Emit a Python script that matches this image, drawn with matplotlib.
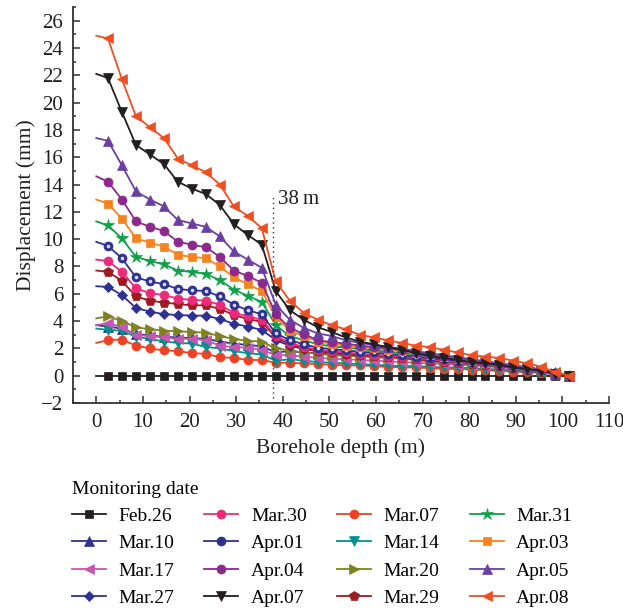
import matplotlib
matplotlib.use("Agg")
import matplotlib.pyplot as plt
from matplotlib.ticker import MultipleLocator

plt.rcParams["font.family"] = ["Liberation Serif", "DejaVu Serif"]

# borehole depth (m); first point is the surface (drawn without a marker)
depth = [0, 2.5, 5.5, 8.5, 11.5, 14.5, 17.5, 20.5, 23.5, 26.5, 29.5, 32.5, 35.5, 38.5,
         41.5, 44.5, 47.5, 50.5, 53.5, 56.5, 59.5, 62.5, 65.5, 68.5, 71.5, 74.5, 77.5,
         80.5, 83.5, 86.5, 89.5, 92.5, 95.5, 98.5, 101.5]

feb26 = [0.0, 0.0, 0.0, 0.0, 0.0, 0.0, 0.0, 0.0, 0.0, 0.0, 0.0, 0.0, 0.0, 0.0, 0.0, 0.0, 0.0, 0.0,
         0.0, 0.0, 0.0, 0.0, 0.0, 0.0, 0.0, 0.0, 0.0, 0.0, 0.0, 0.0, 0.0, 0.0, 0.0, 0.0, 0.0]
mar07 = [2.4, 2.6, 2.65, 2.2, 2.0, 1.85, 1.8, 1.65, 1.6, 1.35, 1.3, 1.15, 1.15, 0.95,
         0.95, 0.9, 0.85, 0.8, 0.75, 0.75, 0.7, 0.65, 0.6, 0.6, 0.55, 0.5, 0.5, 0.45, 0.4, 0.35, 0.3, 0.25, 0.2, 0.1, 0.0]
mar10 = [3.7, 3.6, 3.45, 3.05, 2.95, 2.85, 2.8, 2.75, 2.7, 2.5, 2.35, 2.25, 2.15, 1.7,
         1.8, 1.7, 1.65, 1.6, 1.55, 1.5, 1.45, 1.4, 1.35, 1.3, 1.2, 1.15, 1.05, 1.0, 0.9, 0.8, 0.7, 0.6, 0.45, 0.25, 0.0]
mar14 = [3.45, 3.35, 3.3, 2.85, 2.7, 2.5, 2.4, 2.35, 2.1, 2.0, 1.8, 1.65, 1.55, 1.1,
         1.2, 1.1, 1.0, 0.95, 0.9, 0.85, 0.8, 0.75, 0.7, 0.7, 0.65, 0.6, 0.6, 0.55, 0.5, 0.45, 0.4, 0.3, 0.25, 0.1, 0.0]
mar17 = [3.7, 3.85, 3.55, 3.0, 2.9, 2.8, 2.7, 2.7, 2.6, 2.2, 2.1, 2.05, 1.9, 1.5,
         1.5, 1.4, 1.3, 1.25, 1.2, 1.15, 1.1, 1.05, 1.0, 0.95, 0.9, 0.85, 0.8, 0.75, 0.7, 0.6, 0.55, 0.45, 0.35, 0.2, 0.0]
mar20 = [4.2, 4.35, 4.0, 3.55, 3.4, 3.3, 3.25, 3.2, 3.15, 2.9, 2.7, 2.55, 2.5, 2.0,
         1.85, 1.7, 1.6, 1.5, 1.45, 1.4, 1.35, 1.3, 1.25, 1.15, 1.05, 1.0, 0.9, 0.85, 0.75, 0.7, 0.6, 0.5, 0.4, 0.2, 0.0]
mar27 = [6.55, 6.5, 5.9, 4.95, 4.7, 4.5, 4.45, 4.4, 4.4, 4.15, 3.8, 3.6, 3.35, 2.6,
         2.2, 1.95, 1.8, 1.7, 1.6, 1.55, 1.5, 1.45, 1.4, 1.3, 1.2, 1.1, 1.05, 0.95, 0.9, 0.8, 0.7, 0.6, 0.45, 0.2, 0.0]
mar29 = [7.7, 7.6, 6.95, 5.8, 5.5, 5.35, 5.25, 5.15, 5.15, 4.9, 4.45, 4.15, 3.95, 2.8,
         2.3, 2.0, 1.8, 1.7, 1.6, 1.5, 1.45, 1.4, 1.3, 1.2, 1.1, 1.0, 0.95, 0.85, 0.8, 0.7, 0.55, 0.45, 0.3, 0.15, 0.0]
mar30 = [8.5, 8.4, 7.6, 6.4, 6.05, 5.9, 5.65, 5.55, 5.5, 5.2, 4.6, 4.35, 4.1, 2.9,
         2.4, 2.1, 1.9, 1.8, 1.7, 1.6, 1.55, 1.45, 1.4, 1.3, 1.2, 1.1, 1.0, 0.95, 0.85, 0.75, 0.6, 0.5, 0.35, 0.15, 0.0]
mar31 = [11.3, 11.0, 10.05, 8.7, 8.4, 8.15, 7.7, 7.6, 7.45, 7.0, 6.3, 5.85, 5.4, 3.7,
         2.9, 2.6, 2.3, 2.15, 2.05, 1.95, 1.85, 1.75, 1.65, 1.55, 1.4, 1.3, 1.15, 1.05, 0.9, 0.8, 0.65, 0.5, 0.3, 0.1, 0.0]
apr01 = [9.8, 9.5, 8.6, 7.2, 6.9, 6.7, 6.35, 6.25, 6.2, 5.8, 5.2, 4.8, 4.5, 3.1,
         2.6, 2.3, 2.05, 1.95, 1.85, 1.75, 1.7, 1.6, 1.5, 1.4, 1.3, 1.2, 1.1, 1.0, 0.9, 0.8, 0.65, 0.55, 0.4, 0.2, 0.0]
apr03 = [12.9, 12.6, 11.5, 10.05, 9.75, 9.45, 8.85, 8.7, 8.6, 8.0, 7.2, 6.7, 6.2, 4.3,
         3.3, 2.9, 2.5, 2.35, 2.2, 2.1, 2.0, 1.9, 1.8, 1.65, 1.5, 1.4, 1.25, 1.1, 0.95, 0.85, 0.7, 0.55, 0.35, 0.15, 0.0]
apr04 = [14.6, 14.2, 12.9, 11.3, 10.9, 10.6, 9.8, 9.6, 9.4, 8.7, 7.7, 7.3, 6.8, 4.5,
         3.5, 3.05, 2.6, 2.45, 2.35, 2.2, 2.1, 2.0, 1.9, 1.75, 1.6, 1.45, 1.3, 1.15, 1.0, 0.9, 0.75, 0.6, 0.4, 0.15, 0.0]
apr05 = [17.4, 17.2, 15.4, 13.5, 12.9, 12.4, 11.4, 11.15, 10.9, 10.2, 9.1, 8.5, 7.9, 5.2,
         4.1, 3.5, 3.1, 2.9, 2.6, 2.4, 2.25, 2.1, 2.0, 1.8, 1.65, 1.5, 1.35, 1.2, 1.05, 0.9, 0.75, 0.6, 0.4, 0.15, 0.0]
apr07 = [22.1, 21.8, 19.3, 16.9, 16.2, 15.5, 14.2, 13.7, 13.3, 12.5, 11.1, 10.3, 9.6, 6.2,
         4.8, 4.1, 3.55, 3.2, 2.8, 2.5, 2.3, 2.1, 1.9, 1.65, 1.45, 1.3, 1.15, 1.0, 0.9, 0.8, 0.6, 0.5, 0.35, 0.15, 0.0]
apr08 = [24.9, 24.7, 21.7, 19.0, 18.2, 17.4, 15.9, 15.4, 14.9, 14.0, 12.4, 11.7, 10.8, 6.9,
         5.5, 4.6, 4.1, 3.7, 3.4, 3.0, 2.8, 2.6, 2.4, 2.2, 2.1, 1.9, 1.7, 1.5, 1.4, 1.3, 1.1, 0.9, 0.65, 0.25, 0.0]

# (label, values, colour, marker, marker size) in plotting (chronological) order
series = [
    ("Feb.26", feb26, "#231f20", "s", 5.5),
    ("Mar.07", mar07, "#ef4123", "o", 6.5),
    ("Mar.10", mar10, "#2e3192", "^", 7),
    ("Mar.14", mar14, "#00918f", "v", 7),
    ("Mar.17", mar17, "#c557b0", "<", 7),
    ("Mar.20", mar20, "#7f8220", ">", 7),
    ("Mar.27", mar27, "#2e3192", "D", 5.5),
    ("Mar.29", mar29, "#9e1b22", "p", 7),
    ("Mar.30", mar30, "#ec2a7a", "o", 6.5),
    ("Mar.31", mar31, "#0fa04a", "*", 9),
    ("Apr.01", apr01, "#2e3192", "o", 6.5),
    ("Apr.03", apr03, "#f7821f", "s", 6),
    ("Apr.04", apr04, "#8b2a8c", "o", 6.5),
    ("Apr.05", apr05, "#6b3fa0", "^", 7.5),
    ("Apr.07", apr07, "#231f20", "v", 7.5),
    ("Apr.08", apr08, "#f04e23", "<", 7.5),
]
legend_order = ["Feb.26", "Mar.10", "Mar.17", "Mar.27",
                "Mar.30", "Apr.01", "Apr.04", "Apr.07",
                "Mar.07", "Mar.14", "Mar.20", "Mar.29",
                "Mar.31", "Apr.03", "Apr.05", "Apr.08"]

fig = plt.figure(figsize=(6.23, 6.12), dpi=100)
ax = fig.add_axes([73 / 623, 1 - 403 / 612, (609 - 73) / 623, (403 - 7) / 612])

handles = {}
for label, values, color, marker, ms in series:
    line, = ax.plot(depth, values, color=color, lw=1.3, marker=marker, ms=ms,
                    mec=color, mew=0.5, markevery=slice(1, None), label=label)
    if label == "Apr.01":
        ax.plot(depth[1:], values[1:], ls="none", marker="o", ms=1.6, color="#d8d8f0")
    handles[label] = line

# 38 m marker
ax.plot([38, 38], [-2, 13.3], color="#333333", lw=1, ls=(0, (1, 2.5)))
ax.text(39, 12.9, "38\u2009m", fontsize=15, va="center", ha="left", color="#231f20")

ax.set_xlim(-5, 110)
ax.set_ylim(-2, 27)
ax.xaxis.set_minor_locator(MultipleLocator(5))
ax.yaxis.set_minor_locator(MultipleLocator(1))
ax.set_xticks(range(0, 111, 10))
ax.set_yticks(range(-2, 27, 2))
ax.tick_params(which="both", direction="in", color="#333333", width=1.1, labelsize=15,
               labelcolor="#231f20")
ax.tick_params(which="major", length=5, pad=7)
ax.tick_params(which="minor", length=2.5)
for side in ("top", "right"):
    ax.spines[side].set_visible(False)
for side in ("left", "bottom"):
    ax.spines[side].set_linewidth(1.3)
    ax.spines[side].set_color("#333333")

ax.set_xlabel("Borehole depth (m)", fontsize=15.5, color="#231f20", labelpad=5)
ax.set_ylabel("Displacement (mm)", fontsize=15.5, color="#231f20", labelpad=4)

leg = fig.legend([handles[k] for k in legend_order], legend_order, ncol=4,
                 loc="upper left", bbox_to_anchor=(58 / 623, 1 - 467 / 612),
                 frameon=False, fontsize=14, title="Monitoring date", title_fontsize=14,
                 alignment="left", handlelength=1.75, handletextpad=0.65,
                 columnspacing=1.55, labelspacing=0.5, borderpad=0.2)

fig.savefig("out.png", dpi=100)
